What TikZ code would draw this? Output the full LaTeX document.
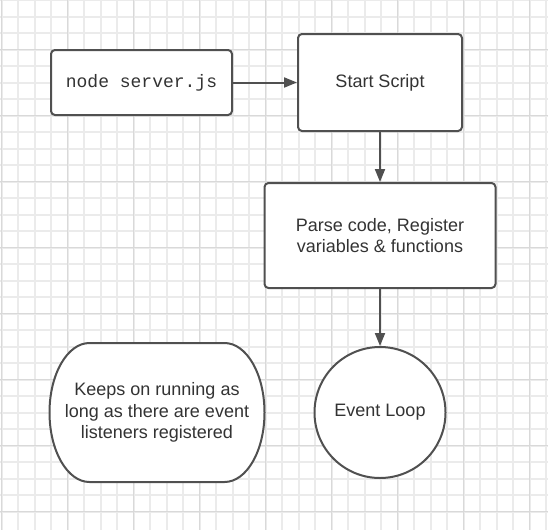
\documentclass[tikz,border=0pt]{standalone}
\usepackage{fontspec}
\setmainfont{Liberation Sans}
\setmonofont{Liberation Mono}
\usepackage{xcolor}
\usepackage{tikz}
\usetikzlibrary{arrows.meta,positioning}
\definecolor{linegray}{HTML}{505050}
\definecolor{textgray}{HTML}{333333}
\definecolor{gridlight}{HTML}{EBEBEB}
\definecolor{griddark}{HTML}{D9D9D9}

\begin{document}
\begin{tikzpicture}[x=1pt, y=-1pt, node distance=50pt, font=\fontsize{18}{21.6}\selectfont, text=textgray]
% Define styles
\tikzstyle{process} = [rectangle, rounded corners=4pt, line width=2pt, draw=linegray, fill=white, text centered, align=center]
\tikzstyle{loopcircle} = [circle, minimum size=131pt, line width=2pt, draw=linegray, fill=white]
\tikzstyle{terminator} = [line width=2pt, draw=linegray, fill=white]
\tikzstyle{arrow} = [line width=2pt, draw=linegray, -{Triangle[length=13pt, width=10pt]}]
\tikzstyle{gridminor} = [draw=gridlight, line width=1.6pt]
\tikzstyle{gridmajor} = [draw=griddark, line width=0.8pt]

% Background grid
\useasboundingbox (0,0) rectangle (548,530);
\fill[white] (0,0) rectangle (548,530);
\foreach \gx in {0,...,33} \draw[gridminor] ({1.7+16.5*\gx},0) -- ({1.7+16.5*\gx},530);
\foreach \gy in {0,...,31} \draw[gridminor] (0,{0.2+16.5*\gy}) -- (548,{0.2+16.5*\gy});
\foreach \gx in {0,...,8} \draw[gridmajor] ({1.7+66*\gx},0) -- ({1.7+66*\gx},530);
\foreach \gy in {0,...,7} \draw[gridmajor] (0,{49.7+66*\gy}) -- (548,{49.7+66*\gy});

% Define nodes
\node (start) [process, minimum width=164pt, minimum height=97pt] at (380,82.5) {Start Script};
\node (server) [process, minimum width=181pt, minimum height=65pt, left=64pt of start] {\ttfamily node server.js};
\node (parse) [process, minimum width=231pt, minimum height=105pt, below=50pt of start] {Parse code, Register\\variables \& functions};
\node (loop) [loopcircle, below=57pt of parse] {Event Loop};

% Rounded terminator left of the loop
\coordinate [left=156.5pt of loop] (runc);
\draw [terminator, shift={(runc)}] (-67.5,-69.5) -- (67.5,-69.5)
  arc[start angle=90, end angle=-90, x radius=40pt, y radius=69.5pt]
  -- (-67.5,69.5)
  arc[start angle=270, end angle=90, x radius=40pt, y radius=69.5pt] -- cycle;
\node (running) [align=center] at (runc) {Keeps on running as\\long as there are event\\listeners registered};

% Draw arrows
\draw [arrow] (server) -- (start);
\draw [arrow] (start) -- (parse);
\draw [arrow] (parse) -- (loop);
\end{tikzpicture}
\end{document}
